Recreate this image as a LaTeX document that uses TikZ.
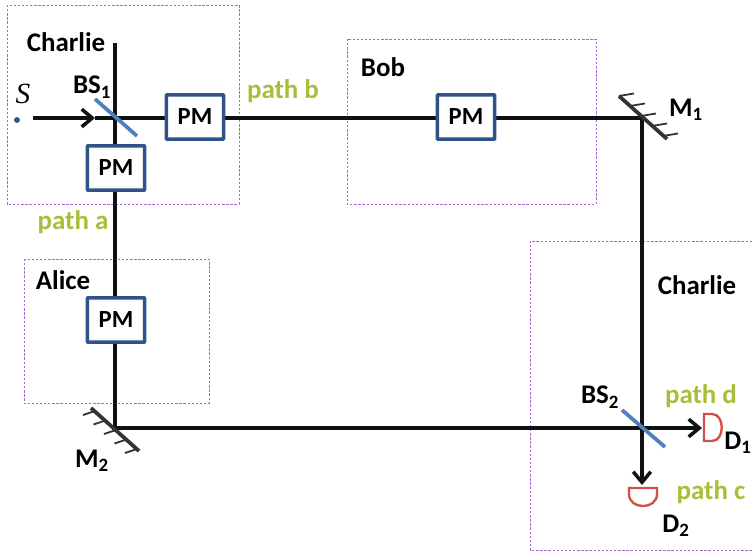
\documentclass[tikz,border=0pt]{standalone}
\usepackage{fontspec}
\setmainfont{Carlito}
\usepackage{xcolor}
\usetikzlibrary{arrows.meta,calc,positioning}
\definecolor{boxpurple}{HTML}{A569D2}
\definecolor{pmblue}{HTML}{2F5288}
\definecolor{bsblue}{HTML}{4F81BD}
\definecolor{pathgreen}{HTML}{A9BD3B}
\definecolor{detred}{HTML}{D0504A}
\definecolor{beamblack}{HTML}{111111}
\definecolor{mirrorgray}{HTML}{333333}
\tikzset{
    party/.style={draw=boxpurple, dash pattern=on 2pt off 1.5pt, line width=0.7pt},
    beam/.style={draw=beamblack, line width=3.2pt},
    beamtip/.style={beam, -{Straight Barb[length=9pt, width=15pt, line width=3pt]}},
    pm/.style={draw=pmblue, fill=white, line width=3pt, rounded corners=0.6pt, minimum width=1.72cm, minimum height=1.33cm, inner sep=0pt, font=\fontsize{21}{21}\bfseries, text=black},
    splitter/.style={draw=bsblue, line width=3.2pt},
    mirror/.style={draw=mirrorgray, line width=3.2pt},
    hatch/.style={draw=mirrorgray, line width=1.5pt},
    detector/.style={draw=detred, line width=2pt},
    lbl/.style={font=\fontsize{23}{23}\bfseries, text=black, inner sep=0pt},
    pathlbl/.style={font=\fontsize{23}{23}\bfseries, text=pathgreen, inner sep=0pt}
}

\begin{document}
\begin{tikzpicture}[x=0.03cm,y=-0.03cm]
    \useasboundingbox (0,0) rectangle (752,552);

    % parties
    \draw[party] (7,5) rectangle (239,204);
    \draw[party] (347,39) rectangle (596,204);
    \draw[party] (24,259) rectangle (209,403);
    \draw[party] (752,241) -- (530,241) -- (530,550) -- (752,550);

    \coordinate (top) at (115,43);
    \coordinate (src) at (33,118);
    \coordinate (srctip) at (95,118);
    \coordinate (bsa) at (115,118);
    \coordinate (bsb) at (642,428);
    \coordinate (ma) at (642,118);
    \coordinate (mb) at (115,428);
    \coordinate (tipd) at (702,428);
    \coordinate (tipc) at (642,485);

    % beams
    \draw[beam] (top) -- (mb) -- (bsb);
    \draw[beam] (bsa) -- (ma) -- (bsb);
    \draw[beam] (srctip) -- (bsa);
    \draw[beamtip] (src) -- (srctip);
    \draw[beamtip] (bsb) -- (tipd);
    \draw[beamtip] (bsb) -- (tipc);

    % phase modulators
    \node[pm] (pmc) at (195,117) {PM};
    \node[pm] (pmd) at (116,168) {PM};
    \node[pm] (pmb) at (466,117) {PM};
    \node[pm] (pma) at (116,320) {PM};

    % beam splitters
    \draw[splitter] (95,99) -- (137,136);
    \draw[splitter] (622,410) -- (665,447);

    % mirrors
    \draw[mirror] (619,96) -- (667,139);
    \foreach \i in {0,...,4}
        \draw[hatch] ($(619,96)+(\i*11,\i*10)$) -- +(15,-2.5);
    \draw[mirror] (91,408) -- (139,451);
    \foreach \i in {0,...,4}
        \draw[hatch] ($(95,411)+(\i*10.5,\i*9.5)$) -- +(-12,4);

    % detectors
    \draw[detector] (704,414) -- (704,441) -- (712,441)
        .. controls (725,441) and (725,414) .. (712,414) -- cycle;
    \draw[detector] (629,488) -- (657,488) -- (657,494)
        .. controls (657,510) and (629,510) .. (629,494) -- cycle;

    % source
    \node[circle, fill=pmblue, inner sep=0pt, minimum size=5pt] (dot) at (17,120) {};
    \node[font=\fontsize{25}{25}\selectfont, inner sep=0pt] (s) at (23,94) {\fontspec{Liberation Serif}\itshape S};

    \node[lbl] (charliea) at (66,42) {Charlie};
    \node[lbl] (bob) at (383,67) {Bob};
    \node[lbl] (alice) at (63,280) {Alice};
    \node[lbl] (charlieb) at (697,285) {Charlie};
    \node[lbl] (bsone) at (92,87) {BS\textsubscript{1}};
    \node[lbl] (bstwo) at (600,397) {BS\textsubscript{2}};
    \node[lbl] (mone) at (686,110) {M\textsubscript{1}};
    \node[lbl] (mtwo) at (92,461) {M\textsubscript{2}};
    \node[lbl] (done) at (738,443) {D\textsubscript{1}};
    \node[lbl] (dtwo) at (676,526) {D\textsubscript{2}};

    \node[pathlbl] (patha) at (73,222) {path a};
    \node[pathlbl] (pathb) at (283,91) {path b};
    \node[pathlbl] (pathd) at (701,396) {path d};
    \node[pathlbl] (pathc) at (711,492) {path c};
\end{tikzpicture}
\end{document}
